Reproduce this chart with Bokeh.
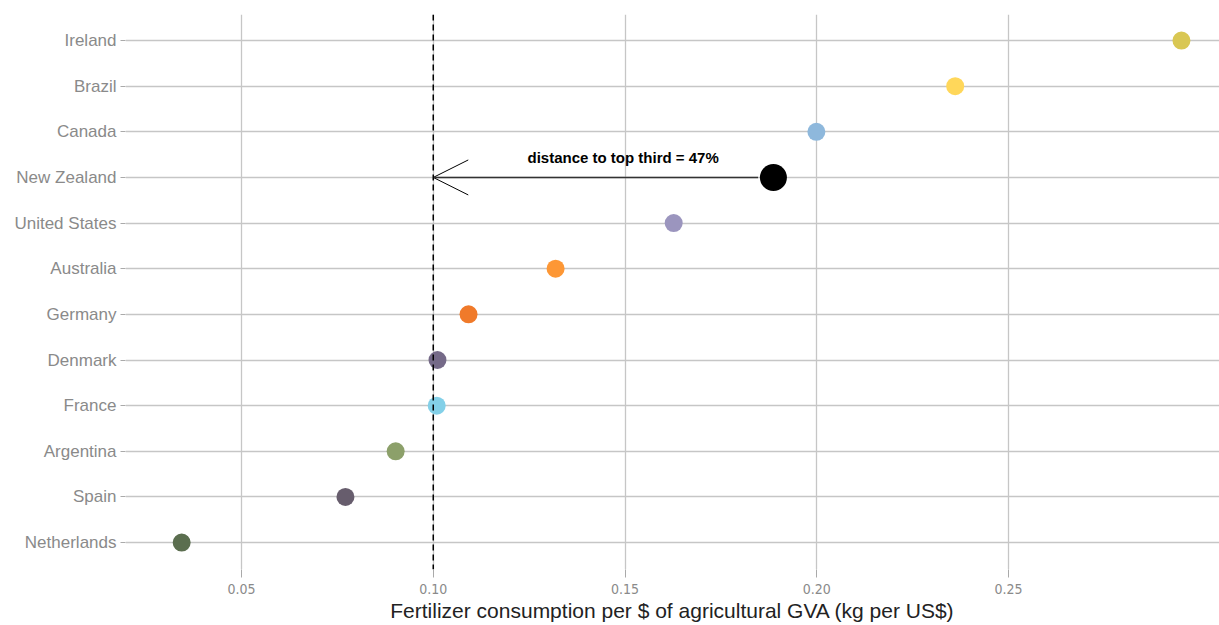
from bokeh.plotting import figure
from bokeh.models import Range1d, FixedTicker, Span, Arrow, OpenHead, Label, ColumnDataSource
from bokeh.embed import file_html
from bokeh.resources import INLINE

countries = ["Ireland", "Brazil", "Canada", "New Zealand", "United States", "Australia",
             "Germany", "Denmark", "France", "Argentina", "Spain", "Netherlands"]
values = [0.2951, 0.2361, 0.1999, 0.1887, 0.1627, 0.1319,
          0.1092, 0.1011, 0.1009, 0.0902, 0.0771, 0.0344]
colors = ["#D9C753", "#FFD75A", "#8EB8DC", "#000000", "#9B95BE", "#FD9735",
          "#F07A2A", "#756A88", "#83D0E8", "#8CA06A", "#675D6D", "#5B6E4F"]
highlight = "New Zealand"
top_third = 0.10
x_ticks = [0.05, 0.10, 0.15, 0.20, 0.25]
x_tick_labels = ["0.05", "0.10", "0.15", "0.20", "0.25"]
annotation_text = "distance  to top third = 47%"
x_title = "Fertilizer consumption per $ of agricultural GVA (kg per US$)"

n = len(countries)
ypos = [n - 1 - i for i in range(n)]

p = figure(width=1219, height=625, output_backend="svg", toolbar_location=None,
           x_range=Range1d(0.01975, 0.30502), y_range=Range1d(-0.59, 11.57),
           min_border_left=125, min_border_right=0, min_border_top=14, min_border_bottom=56)
p.outline_line_color = None
p.background_fill_color = "white"

others = [i for i in range(n) if countries[i] != highlight]
src = ColumnDataSource(dict(x=[values[i] for i in others], y=[ypos[i] for i in others],
                            c=[colors[i] for i in others]))
p.scatter("x", "y", source=src, size=18, fill_color="c", line_color=None)
hi = countries.index(highlight)
p.scatter([values[hi]], [ypos[hi]], size=27, fill_color=colors[hi], line_color=None)

p.add_layout(Span(location=top_third, dimension="height", line_color="black",
                  line_width=1.5, line_dash="6 4"))
arrow = Arrow(end=OpenHead(size=35, line_width=1, line_color="black"),
              x_start=values[hi] - 0.004, y_start=ypos[hi], x_end=top_third, y_end=ypos[hi],
              line_color="#333333", line_width=1.6)
p.add_layout(arrow)
p.add_layout(Label(x=(values[hi] + top_third) / 2 + 0.0057, y=ypos[hi], y_offset=20,
                   text=annotation_text, text_align="center", text_baseline="middle",
                   text_font="Liberation Sans", text_font_style="bold",
                   text_font_size="15px", text_color="black"))

grid_color = "#c6c6c6"
p.xgrid.ticker = FixedTicker(ticks=x_ticks)
p.ygrid.ticker = FixedTicker(ticks=ypos)
p.xgrid.grid_line_color = grid_color
p.ygrid.grid_line_color = grid_color
p.xgrid.grid_line_width = 1.3
p.ygrid.grid_line_width = 1.3

xa = p.xaxis[0]
xa.ticker = FixedTicker(ticks=x_ticks)
xa.major_label_overrides = {t: l for t, l in zip(x_ticks, x_tick_labels)}
xa.axis_line_color = None
xa.major_tick_line_color = "#aaaaaa"
xa.major_tick_out = 8
xa.major_tick_in = 0
xa.minor_tick_line_color = None
xa.major_label_text_font = "DejaVu Sans Condensed"
xa.major_label_text_font_size = "14px"
xa.major_label_text_color = "#8a8a8a"
xa.major_label_standoff = 6
xa.axis_label = x_title
xa.axis_label_text_font = "Liberation Sans"
xa.axis_label_text_font_style = "normal"
xa.axis_label_text_font_size = "21px"
xa.axis_label_text_color = "#222222"
xa.axis_label_standoff = 2

ya = p.yaxis[0]
ya.ticker = FixedTicker(ticks=ypos)
ya.major_label_overrides = {y: c for y, c in zip(ypos, countries)}
ya.axis_line_color = None
ya.major_tick_line_color = "#aaaaaa"
ya.major_tick_out = 5
ya.major_tick_in = 0
ya.minor_tick_line_color = None
ya.major_label_text_font = "Liberation Sans"
ya.major_label_text_font_size = "17px"
ya.major_label_text_color = "#8a8a8a"
ya.major_label_standoff = 4

open("out.html", "w").write(file_html(p, INLINE))
